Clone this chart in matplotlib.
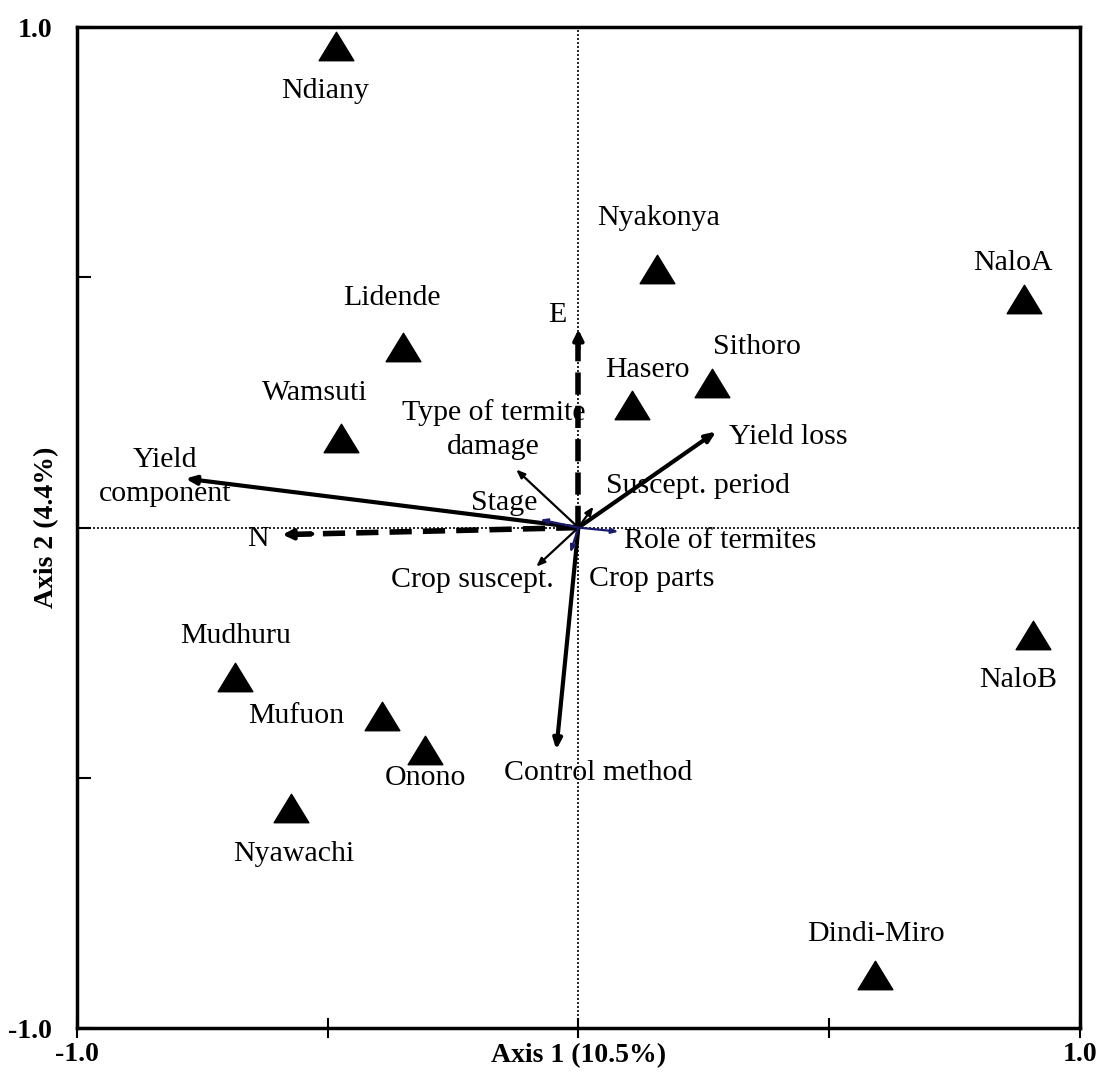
import numpy as np
import matplotlib
matplotlib.use("Agg")
import matplotlib.pyplot as plt
from matplotlib.path import Path

plt.rcParams["font.family"] = ["Liberation Serif", "DejaVu Serif"]

# sites (triangles)
sites = ["Ndiany", "Nyakonya", "NaloA", "Lidende", "Sithoro", "Hasero", "Wamsuti",
         "NaloB", "Mudhuru", "Mufuon", "Onono", "Nyawachi", "Dindi-Miro"]
site_x = [-0.484, 0.156, 0.889, -0.349, 0.267, 0.106, -0.473,
          0.907, -0.684, -0.391, -0.305, -0.574, 0.592]
site_y = [0.962, 0.516, 0.456, 0.360, 0.288, 0.246, 0.180,
          -0.214, -0.298, -0.376, -0.444, -0.560, -0.894]

# environmental vectors
var_names = ["Yield\ncomponent", "N", "E", "Yield loss", "Control method",
             "Type of termite\ndamage", "Stage", "Suscept. period",
             "Role of termites", "Crop suscept.", "Crop parts"]
var_x = [-0.784, -0.590, 0.000, 0.275, -0.044, -0.124, -0.076, 0.030, 0.080, -0.084, -0.016]
var_y = [0.098, -0.014, 0.396, 0.192, -0.444, 0.116, 0.016, 0.042, -0.008, -0.078, -0.050]

# label placement (pixel offsets for sites, data coords for vectors)
site_off = {"Ndiany": (-11, -45), "Nyakonya": (2, 51), "NaloA": (-11, 36),
            "Lidende": (-12, 49), "Sithoro": (45, 36), "Hasero": (16, 35),
            "Wamsuti": (-26, 45), "NaloB": (-15, -45), "Mudhuru": (0, 41),
            "Mufuon": (-86, 0), "Onono": (0, -28), "Nyawachi": (3, -46),
            "Dindi-Miro": (1, 41)}
var_lab_x = [-0.824, -0.640, -0.042, 0.419, 0.040, -0.169, -0.148, 0.239, 0.283, -0.211, 0.146]
var_lab_y = [0.102, -0.022, 0.424, 0.182, -0.490, 0.196, 0.050, 0.084, -0.026, -0.104, -0.102]
var_style = ["thick", "dash", "dash", "thick", "thick", "thin", "blue", "thin", "blue", "thin", "blue"]

FS = 21.5
tri = Path([(0, 0.82), (-1, -0.82), (1, -0.82), (0, 0.82)],
           [Path.MOVETO, Path.LINETO, Path.LINETO, Path.CLOSEPOLY])

fig = plt.figure(figsize=(11.08, 10.75), dpi=100)
ax = fig.add_axes([0.0695, 0.0437, 0.905, 0.931])
ax.set_xlim(-1, 1)
ax.set_ylim(-1, 1)

ax.axhline(0, color="black", lw=1.2, ls=(0, (1.2, 1.2)), zorder=1)
ax.axvline(0, color="black", lw=1.2, ls=(0, (1.2, 1.2)), zorder=1)

ax.plot(site_x, site_y, ls="none", marker=tri, ms=25, color="black", zorder=3)
for name, x, y in zip(sites, site_x, site_y):
    ax.annotate(name, (x, y), xytext=site_off[name], textcoords="offset pixels",
                ha="center", va="center", fontsize=FS)

for name, x, y, lx, ly, st in zip(var_names, var_x, var_y, var_lab_x, var_lab_y, var_style):
    if st == "dash":
        ax.plot([0, x * 0.96], [0, y * 0.96], color="black", lw=4, ls=(0, (4, 2)),
                solid_capstyle="butt", zorder=2)
        ax.annotate("", xy=(x, y), xytext=(x * 0.9, y * 0.9),
                    arrowprops=dict(arrowstyle="-|>,head_length=0.6,head_width=0.3",
                                    color="black", lw=3, shrinkA=0, shrinkB=0))
    elif st == "thick":
        ax.annotate("", xy=(x, y), xytext=(0, 0),
                    arrowprops=dict(arrowstyle="-|>,head_length=0.6,head_width=0.25",
                                    color="black", lw=3, shrinkA=0, shrinkB=0))
    elif st == "thin":
        ax.annotate("", xy=(x, y), xytext=(0, 0),
                    arrowprops=dict(arrowstyle="-|>,head_length=0.5,head_width=0.2",
                                    color="black", lw=1.6, shrinkA=0, shrinkB=0))
    else:
        ax.annotate("", xy=(x, y), xytext=(0, 0),
                    arrowprops=dict(arrowstyle="-|>,head_length=0.4,head_width=0.15",
                                    color="#1a1a6e", lw=1.6, shrinkA=0, shrinkB=0))
    ax.text(lx, ly, name, ha="center", va="center", fontsize=FS, linespacing=1.4)

ax.set_xticks([-1, -0.5, 0, 0.5, 1])
ax.set_yticks([-1, -0.5, 0, 0.5, 1])
ax.set_xticklabels(["-1.0", "", "", "", "1.0"], fontweight="bold", fontsize=20)
ax.set_yticklabels(["-1.0", "", "", "", "1.0"], fontweight="bold", fontsize=20)
ax.tick_params(axis="x", direction="inout", length=14, width=1.5, pad=3)
ax.tick_params(axis="y", direction="in", length=10, width=1.5, pad=18)
for s in ax.spines.values():
    s.set_linewidth(2.5)

ax.set_xlabel("Axis 1 (10.5%)", fontweight="bold", fontsize=20, labelpad=-17)
ax.set_ylabel("Axis 2 (4.4%)", fontweight="bold", fontsize=20, labelpad=-37)

fig.savefig("out.png", dpi=100)
